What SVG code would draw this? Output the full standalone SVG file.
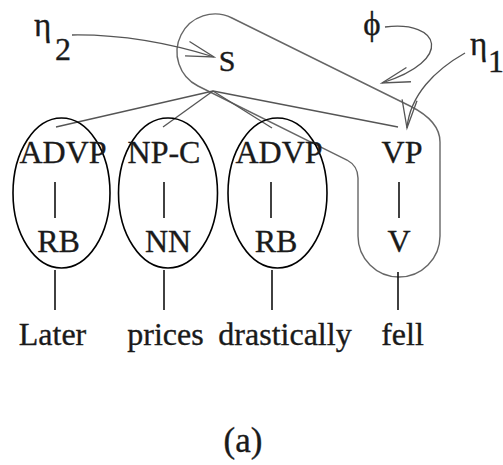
<svg xmlns="http://www.w3.org/2000/svg" width="503" height="465" viewBox="0 0 503 465">
  <style>
    text { font-family: 'Liberation Serif', 'DejaVu Serif', serif; fill: #1a1a1a; stroke: #1a1a1a; stroke-width: 0.35; }
    .lbl { font-size: 32px; text-anchor: middle; }
    .greek { font-size: 33px; }
    .sub { font-size: 32px; }
    .edge { stroke: #555; stroke-width: 1.3; fill: none; }
    .bar { stroke: #111; stroke-width: 1.6; fill: none; }
    .oval { stroke: #000; stroke-width: 1.6; fill: none; }
    .outline { stroke: #666; stroke-width: 1.4; fill: none; }
    .pointer { stroke: #555; stroke-width: 1.3; fill: none; marker-end: url(#open); }
  </style>
  <defs>
    <marker id="open" markerUnits="userSpaceOnUse" orient="auto" markerWidth="32" markerHeight="20" viewBox="-30 -10 32 20" refX="0" refY="0" overflow="visible">
      <path d="M-28,-7.5 L0,0 L-28,7.5" fill="none" stroke="#555" stroke-width="1.3"/>
    </marker>
  </defs>

  <rect width="503" height="465" fill="#fff"/>

  <!-- fragment outline around S, VP and V -->
  <path id="fragment" class="outline" d="M232,18 L410,106 Q440,121 440,142 L440,236 A41,41 0 0 1 358,236 L358,178 Q358,166 347,160 L198,86 A38,38 0 0 1 232,18 Z"/>

  <g id="connectors">
    <!-- S to children -->
    <line class="edge" x1="213" y1="91" x2="56" y2="127"/>
    <line class="edge" x1="213" y1="91" x2="163" y2="127"/>
    <line class="edge" x1="213" y1="91" x2="272" y2="128"/>
    <line class="edge" x1="213" y1="91" x2="398" y2="127"/>
    <!-- unary links -->
    <line class="bar" x1="55" y1="182" x2="55" y2="218"/>
    <line class="bar" x1="164" y1="182" x2="164" y2="218"/>
    <line class="bar" x1="271" y1="182" x2="271" y2="218"/>
    <line class="bar" x1="399" y1="182" x2="399" y2="218"/>
    <!-- preterminals to words -->
    <line class="bar" x1="55" y1="270" x2="55" y2="310"/>
    <line class="bar" x1="164" y1="270" x2="164" y2="310"/>
    <line class="bar" x1="272" y1="270" x2="272" y2="310"/>
    <line class="bar" x1="398" y1="272" x2="398" y2="310"/>
    <!-- pointers -->
    <path class="pointer" d="M72,35 Q140,34 214,57"/>
    <path class="pointer" d="M385,27 C440,20 455,60 382,83"/>
    <path class="pointer" d="M465,53 C435,70 410,95 407,128"/>
  </g>

  <g id="eta2">
    <text class="greek" x="34" y="36">η</text>
    <text class="sub" x="55" y="60">2</text>
  </g>
  <g id="phi">
    <text class="greek" x="372" y="35" text-anchor="middle">ϕ</text>
  </g>
  <g id="eta1">
    <text class="greek" x="470" y="55">η</text>
    <text class="sub" x="488" y="72">1</text>
  </g>

  <g id="node-S"><text class="lbl" x="227" y="71" style="font-size:30px">S</text></g>

  <g id="node-ADVP1">
    <ellipse class="oval" cx="61.5" cy="193" rx="48.5" ry="75"/>
    <text class="lbl" x="63" y="163">ADVP</text>
  </g>
  <g id="node-RB1"><text class="lbl" x="58.5" y="252">RB</text></g>

  <g id="node-NPC">
    <ellipse class="oval" cx="168" cy="193" rx="49.5" ry="75"/>
    <text class="lbl" x="164" y="163">NP-C</text>
  </g>
  <g id="node-NN"><text class="lbl" x="168" y="252">NN</text></g>

  <g id="node-ADVP2">
    <ellipse class="oval" cx="277.5" cy="193" rx="49.5" ry="75"/>
    <text class="lbl" x="279" y="163">ADVP</text>
  </g>
  <g id="node-RB2"><text class="lbl" x="276" y="252">RB</text></g>

  <g id="node-VP"><text class="lbl" x="402" y="163">VP</text></g>
  <g id="node-V"><text class="lbl" x="399" y="252">V</text></g>

  <g id="words">
    <text class="lbl" x="52.5" y="345">Later</text>
    <text class="lbl" x="165.5" y="345">prices</text>
    <text class="lbl" x="285" y="345">drastically</text>
    <text class="lbl" x="402.5" y="345">fell</text>
  </g>

  <g id="caption"><text class="lbl" x="243" y="452" style="font-size:35px">(a)</text></g>
</svg>
